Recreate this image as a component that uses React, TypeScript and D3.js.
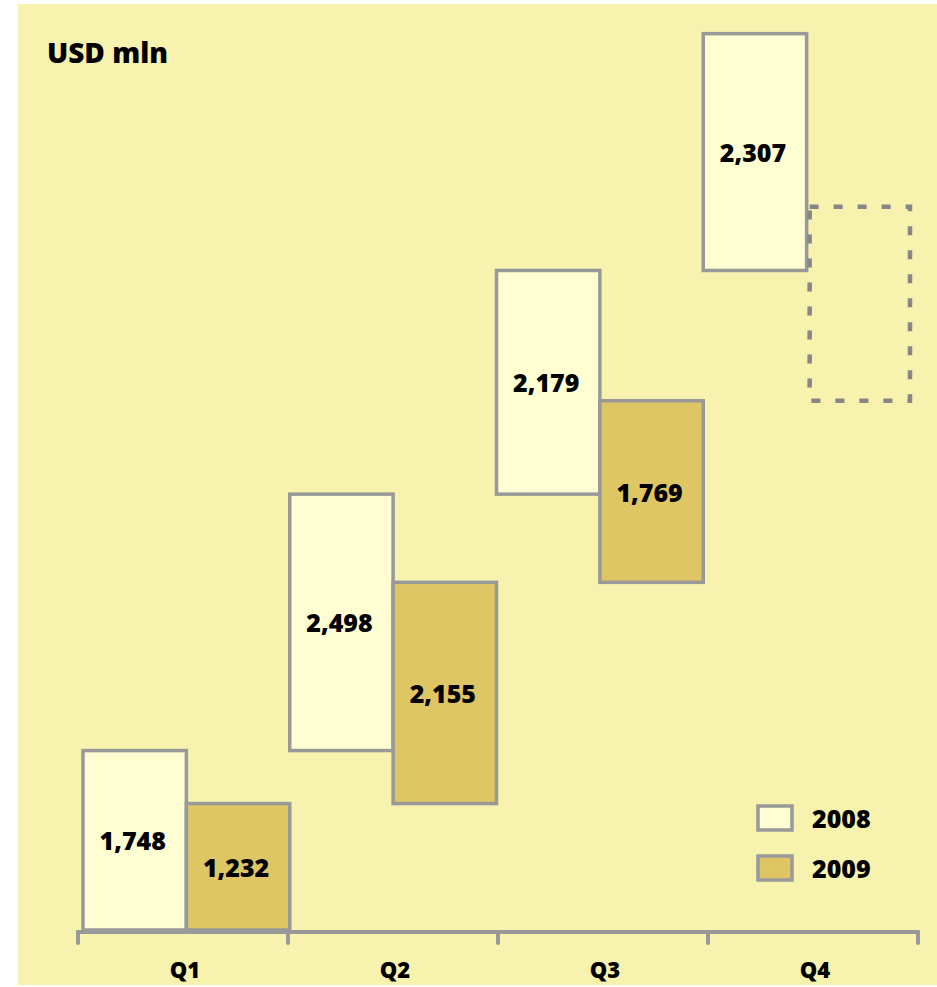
import React from 'react';
import * as d3 from 'd3';

const quarters = ['Q1', 'Q2', 'Q3', 'Q4'];
const years = ['2008', '2009'];
const values2008 = [1748, 2498, 2179, 2307];
const values2009 = [1232, 2155, 1769];
// Q4 2009 not yet reported: dashed outline only (height)
const placeholder2009Q4 = 1890;
const unitLabel = 'USD mln';

const W = 937;
const H = 987;
const FONT = '"Open Sans", "Liberation Sans", sans-serif';
const fill2008 = '#FFFDD2';
const fill2009 = '#DFC665';
const stroke = '#999999';
const bg = '#F7F2AE';

export default function App() {
  const x0 = d3.scaleBand<string>().domain(quarters).range([83, 910]).padding(0);
  const x1 = d3.scaleBand<string>().domain(years).range([0, x0.bandwidth()]).padding(0);
  const xAxis = d3.scaleBand<string>().domain(quarters).range([78, 918]).padding(0);
  const y = d3.scaleLinear().domain([0, 9060]).range([930, 0]);

  const cum2008 = Array.from(d3.cumsum(values2008));
  const cum2009 = Array.from(d3.cumsum(values2009));

  const bars: { q: string; year: string; v: number; top: number; base: number }[] = [];
  values2008.forEach((v, i) =>
    bars.push({ q: quarters[i], year: '2008', v, top: cum2008[i], base: cum2008[i] - v })
  );
  values2009.forEach((v, i) =>
    bars.push({ q: quarters[i], year: '2009', v, top: cum2009[i], base: cum2009[i] - v })
  );
  const lastBase2009 = cum2009[cum2009.length - 1];
  const phX = (x0(quarters[3]) as number) + (x1('2009') as number) + 3;
  const phW = x1.bandwidth() - 3;

  const fmt = d3.format(',');
  const axisY = 932;
  const tickXs = [...quarters.map((q) => xAxis(q) as number), xAxis.range()[1]];

  return (
    <svg
      width={W}
      height={H}
      style={{ position: 'absolute', left: 0, top: 0, display: 'block' }}
      fontFamily={FONT}
    >
      <rect x={0} y={0} width={W} height={H} fill="#ffffff" />
      <rect x={18} y={4} width={W - 18} height={981} fill={bg} />
      <text x={47} y={63} fontSize={28} fontWeight={800} fill="#000">
        {unitLabel}
      </text>

      {bars.map((b) => {
        const bx = (x0(b.q) as number) + (x1(b.year) as number);
        const bw = x1.bandwidth();
        const yt = y(b.top);
        const yb = y(b.base);
        return (
          <g key={b.q + b.year}>
            <rect
              x={bx}
              y={yt}
              width={bw}
              height={yb - yt}
              fill={b.year === '2008' ? fill2008 : fill2009}
              stroke={stroke}
              strokeWidth={3.5}
            />
            <text
              x={bx + bw / 2 - 2}
              y={(yt + yb) / 2}
              textAnchor="middle"
              dominantBaseline="central"
              fontSize={25}
              fontWeight={800}
              fill="#000"
            >
              {fmt(b.v)}
            </text>
          </g>
        );
      })}

      <rect
        x={phX}
        y={y(lastBase2009 + placeholder2009Q4)}
        width={phW}
        height={y(lastBase2009) - y(lastBase2009 + placeholder2009Q4)}
        fill="none"
        stroke="#868686"
        strokeWidth={4.5}
        strokeDasharray="9 15"
      />

      <line x1={tickXs[0]} x2={tickXs[tickXs.length - 1]} y1={axisY} y2={axisY} stroke={stroke} strokeWidth={4} strokeLinecap="round" />
      {tickXs.map((tx, i) => (
        <line key={i} x1={tx} x2={tx} y1={axisY} y2={943} stroke={stroke} strokeWidth={4} strokeLinecap="round" />
      ))}
      {quarters.map((q) => (
        <text
          key={q}
          x={(xAxis(q) as number) + xAxis.bandwidth() / 2 + 2}
          y={978}
          textAnchor="middle"
          fontSize={22}
          fontWeight={800}
          fill="#000"
        >
          {q}
        </text>
      ))}

      {years.map((yr, i) => (
        <g key={yr} transform={`translate(758, ${806 + i * 50})`}>
          <rect x={0} y={0} width={34} height={24} fill={yr === '2008' ? fill2008 : fill2009} stroke={stroke} strokeWidth={3.5} />
          <text x={54} y={12} dominantBaseline="central" fontSize={25} fontWeight={800} fill="#000">
            {yr}
          </text>
        </g>
      ))}
    </svg>
  );
}
